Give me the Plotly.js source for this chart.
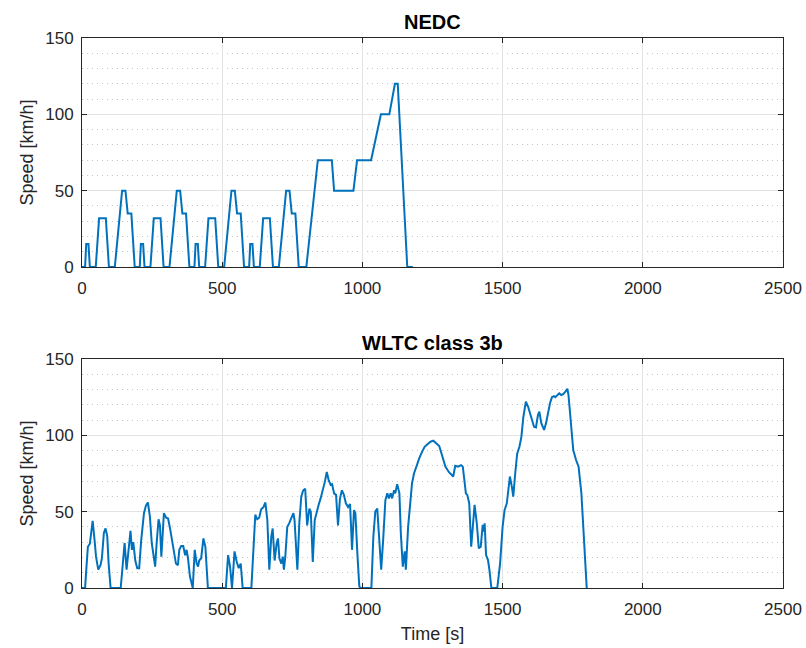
<!DOCTYPE html>
<html>
<head>
<meta charset="utf-8">
<script src="https://cdn.plot.ly/plotly-3.0.1.min.js"></script>
<style>html,body{margin:0;padding:0;background:#fff;}#chart{width:806px;height:648px;}</style>
</head>
<body>
<div id="chart"></div>
<script>
// NEDC breakpoints (time in s, speed in km/h)
const nedcTime = [
  0,11,15,23,28,49,61,85,96,117,143,155,163,176,188,
  195,206,210,218,223,244,256,280,291,312,338,350,358,371,383,
  390,401,405,413,418,439,451,475,486,507,533,545,553,566,578,
  585,596,600,608,613,634,646,670,681,702,728,740,748,761,773,
  780,800,841,891,899,968,981,1031,1066,1096,1116,1126,1160,1180
];
const nedcSpeed = [
  0,0,15,15,0,0,32,32,0,0,50,50,35,35,0,
  0,0,15,15,0,0,32,32,0,0,50,50,35,35,0,
  0,0,15,15,0,0,32,32,0,0,50,50,35,35,0,
  0,0,15,15,0,0,32,32,0,0,50,50,35,35,0,
  0,0,70,70,50,50,70,70,100,100,120,120,0,0
];

// WLTC class 3b
const wltcTime = [
  0,11,16,21,28,38,45,50,58,66,
  71,78,84,90,95,102,138,145,152,159,
  166,173,178,183,190,197,204,211,221,228,
  235,242,249,257,261,266,273,278,283,288,
  292,300,307,314,321,328,335,342,347,354,
  361,368,373,378,385,395,402,409,414,418,
  425,433,440,449,513,521,528,535,544,552,
  559,566,573,604,611,618,625,632,639,647,
  654,661,668,675,680,687,694,699,704,711,
  716,720,725,732,739,746,754,758,768,775,
  782,789,796,803,811,816,823,830,837,844,
  851,858,866,873,880,887,892,899,906,913,
  920,927,934,941,949,956,963,970,975,982,
  989,994,1032,1039,1046,1053,1060,1067,1074,1082,
  1089,1094,1101,1106,1113,1117,1124,1132,1137,1144,
  1151,1155,1163,1170,1177,1184,1194,1203,1213,1222,
  1231,1243,1253,1262,1274,1284,1296,1308,1317,1324,
  1331,1341,1352,1358,1365,1369,1374,1381,1388,1395,
  1400,1408,1415,1422,1429,1434,1436,1441,1448,1453,
  1460,1481,1491,1500,1507,1515,1522,1526,1533,1538,
  1545,1552,1560,1567,1574,1583,1591,1598,1605,1612,
  1619,1626,1631,1638,1648,1655,1662,1669,1676,1683,
  1688,1695,1702,1709,1716,1724,1731,1735,1743,1752,
  1762,1771,1781,1790,1796,1800
];
const wltcSpeed = [
  0,0,14,27,29,44,31,20.5,12,15,
  19.5,36,39,34,16,0,0,14,29.5,12,
  27,37.5,25,30,18,13,13,31,49,54,
  56,47,29,17,14,29,45,41,20.5,36,
  49,46,45.5,39,31,25,16,15,25,27.5,
  27.5,21.5,25,19.5,7.5,0,25,16,14,18,
  19.5,32.5,27,0,0,21.5,14,0,24,17,
  13,16,0,0,29,48,45,46,51.5,53,
  56,44.5,12,33.5,39,18,29,32.5,19.5,16,
  20.5,12,20.5,40,42.5,45.5,49,44.5,12,42.5,
  60,64,65,41,52,50,17,44.5,50,54.5,
  58.7,63,69.5,76,70.5,67.5,68,62,61,41,
  58.7,64,61,55.5,53,55,25,51,49,22.7,
  1,0,0,33.6,50,52,33.6,12,31.4,57.6,
  62,58.7,62,58.7,64,62,68,62,36,14,
  24,12,40,57.6,68.6,75,80.5,85,89.3,92.5,
  94,95.8,96.5,95.2,93,87,79.5,76,74,73,
  80,79.5,80.5,79.5,68.6,62,61,55.5,27,46.7,
  54.4,42.4,26,27,41.3,37,42.4,21.6,18.3,11.8,
  0,0,16,40,51,55.5,68.6,73,66.4,59.8,
  75,88,92.5,99,112,122,118.7,113.3,110,105.6,
  105.2,113.3,115.5,108,103.5,108,115.5,121,125,125.7,
  125,126.4,127.5,126.4,127,128.6,130.5,126.4,110,90.4,
  83.8,79.5,62,33.6,14,0
];

const xTicks = [0, 500, 1000, 1500, 2000, 2500];
const yTicks = [0, 50, 100, 150];
const titles = ['NEDC', 'WLTC class 3b'];

const FONT = '"Liberation Sans", Arial, Helvetica, sans-serif';
const AX = '#262626';
const lineStyle = {color: '#0072BD', width: 2};

const traces = [
  {x: nedcTime, y: nedcSpeed, type: 'scatter', mode: 'lines', line: lineStyle, xaxis: 'x', yaxis: 'y', hoverinfo: 'skip'},
  {x: wltcTime, y: wltcSpeed, type: 'scatter', mode: 'lines', line: lineStyle, xaxis: 'x2', yaxis: 'y2', hoverinfo: 'skip'}
];

function xa(anchor, title) {
  const a = {
    anchor: anchor, domain: [0, 1], range: [0, 2500], tickvals: xTicks,
    ticks: 'inside', ticklen: 5, tickcolor: AX, mirror: 'allticks',
    showline: true, linecolor: AX, linewidth: 1,
    showgrid: true, gridcolor: '#e3e3e3', gridwidth: 1, zeroline: false,
    tickfont: {family: FONT, size: 17, color: AX}, ticklabelstandoff: 6, fixedrange: true
  };
  if (title) a.title = {text: title, font: {family: FONT, size: 18, color: AX}, standoff: 8};
  return a;
}
function ya(anchor, domain) {
  return {
    anchor: anchor, domain: domain, range: [0, 150], tickvals: yTicks,
    ticks: 'inside', ticklen: 5, tickcolor: AX, mirror: 'allticks',
    showline: true, linecolor: AX, linewidth: 1,
    showgrid: true, gridcolor: '#e3e3e3', gridwidth: 1, zeroline: false,
    minor: {dtick: 10, showgrid: true, griddash: '1px,4px', gridcolor: '#c4c4c4', gridwidth: 1, ticks: ''},
    tickfont: {family: FONT, size: 17, color: AX}, ticklabelstandoff: 4,
    title: {text: 'Speed [km/h]', font: {family: FONT, size: 18, color: AX}, standoff: 6},
    fixedrange: true
  };
}

const layout = {
  width: 806, height: 648,
  margin: {l: 82, r: 23, t: 38, b: 60, pad: 0},
  paper_bgcolor: '#ffffff', plot_bgcolor: '#ffffff',
  showlegend: false,
  font: {family: FONT, color: AX},
  xaxis: xa('y', null),
  yaxis: ya('x', [0.5836, 1]),
  xaxis2: xa('y2', 'Time [s]'),
  yaxis2: ya('x2', [0, 0.4164]),
  annotations: [
    {text: '<b>' + titles[0] + '</b>', xref: 'paper', yref: 'paper', x: 0.5, y: 1, yshift: 3, xanchor: 'center', yanchor: 'bottom', showarrow: false, font: {family: FONT, size: 20, color: '#000'}},
    {text: '<b>' + titles[1] + '</b>', xref: 'paper', yref: 'paper', x: 0.5, y: 0.4164, yshift: 3, xanchor: 'center', yanchor: 'bottom', showarrow: false, font: {family: FONT, size: 20, color: '#000'}}
  ]
};

Plotly.newPlot('chart', traces, layout, {displayModeBar: false, staticPlot: true});
</script>
</body>
</html>
